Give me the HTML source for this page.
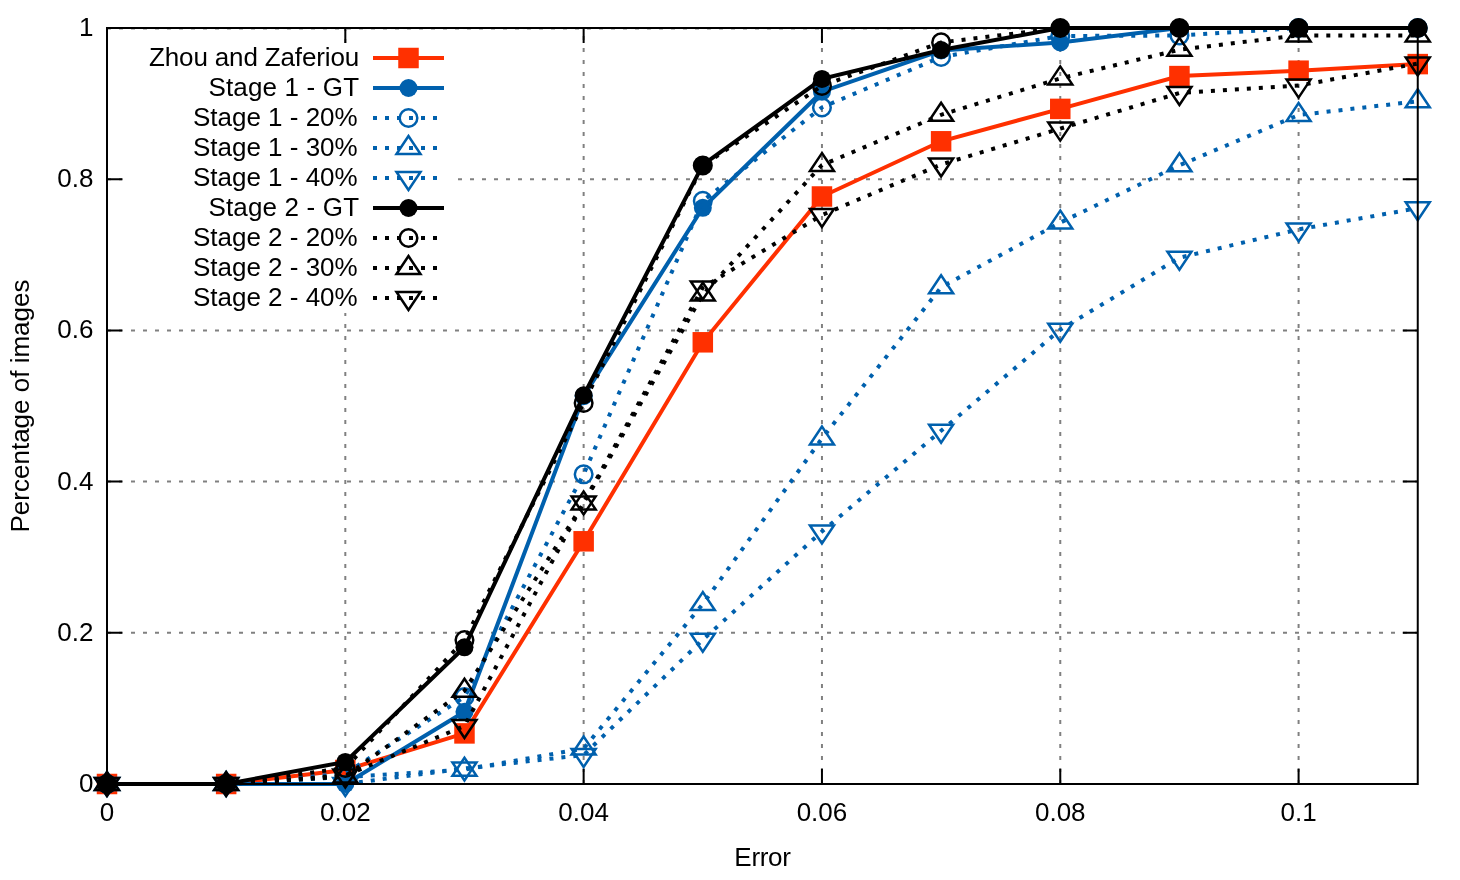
<!DOCTYPE html>
<html>
<head>
<meta charset="utf-8">
<title>Error vs percentage of images</title>
<style>
html, body { margin: 0; padding: 0; background: #ffffff; }
body { width: 1460px; height: 880px; overflow: hidden; font-family: "Liberation Sans", sans-serif; }
svg { display: block; will-change: transform; }
</style>
</head>
<body>
<svg width="1460" height="880" viewBox="0 0 1460 880">
<rect x="0" y="0" width="1460" height="880" fill="#ffffff"/>
<g stroke="#808080" stroke-width="2" stroke-dasharray="4 8" fill="none">
<path d="M107 632.8H1417.75"/>
<path d="M107 481.6H1417.75"/>
<path d="M107 330.4H1417.75"/>
<path d="M107 179.2H125 M458 179.2H1417.75"/>
<path d="M107 28.6H1417.75"/>
<path d="M345.32 784V313 M345.32 43V28"/>
<path d="M583.64 784V28"/>
<path d="M821.95 784V28"/>
<path d="M1060.27 784V28"/>
<path d="M1298.59 784V28"/>
</g>
<g stroke="#000" stroke-width="2" fill="none">
<path d="M107 784V769 M107 28V43"/>
<path d="M345.32 784V769 M345.32 28V43"/>
<path d="M583.64 784V769 M583.64 28V43"/>
<path d="M821.95 784V769 M821.95 28V43"/>
<path d="M1060.27 784V769 M1060.27 28V43"/>
<path d="M1298.59 784V769 M1298.59 28V43"/>
<path d="M107 784H122 M1417.75 784H1402.75"/>
<path d="M107 632.8H122 M1417.75 632.8H1402.75"/>
<path d="M107 481.6H122 M1417.75 481.6H1402.75"/>
<path d="M107 330.4H122 M1417.75 330.4H1402.75"/>
<path d="M107 179.2H122 M1417.75 179.2H1402.75"/>
<path d="M107 28H122 M1417.75 28H1402.75"/>
</g>
<g>
<path d="M373 58H444" stroke="#ff3000" stroke-width="4" fill="none"/>
<rect x="398.25" y="47.75" width="20.5" height="20.5" fill="#ff3000"/>
<path d="M107 784 L226.16 784 L345.32 770 L464.48 733.4 L583.64 541.3 L702.8 342.3 L821.95 196.5 L941.11 141.3 L1060.27 108.9 L1179.43 76.1 L1298.59 70.7 L1417.75 64.1" stroke="#ff3000" stroke-width="4" fill="none" stroke-linejoin="miter"/>
<rect x="96.75" y="773.75" width="20.5" height="20.5" fill="#ff3000"/>
<rect x="215.91" y="773.75" width="20.5" height="20.5" fill="#ff3000"/>
<rect x="335.07" y="759.75" width="20.5" height="20.5" fill="#ff3000"/>
<rect x="454.23" y="723.15" width="20.5" height="20.5" fill="#ff3000"/>
<rect x="573.39" y="531.05" width="20.5" height="20.5" fill="#ff3000"/>
<rect x="692.55" y="332.05" width="20.5" height="20.5" fill="#ff3000"/>
<rect x="811.7" y="186.25" width="20.5" height="20.5" fill="#ff3000"/>
<rect x="930.86" y="131.05" width="20.5" height="20.5" fill="#ff3000"/>
<rect x="1050.02" y="98.65" width="20.5" height="20.5" fill="#ff3000"/>
<rect x="1169.18" y="65.85" width="20.5" height="20.5" fill="#ff3000"/>
<rect x="1288.34" y="60.45" width="20.5" height="20.5" fill="#ff3000"/>
<rect x="1407.5" y="53.85" width="20.5" height="20.5" fill="#ff3000"/>
</g>
<g>
<path d="M373 88H444" stroke="#0060ad" stroke-width="4" fill="none"/>
<circle cx="408.5" cy="88" r="9" fill="#0060ad"/>
<path d="M107 784 L226.16 784 L345.32 784 L464.48 711.8 L583.64 396.2 L702.8 207.8 L821.95 91.7 L941.11 50.5 L1060.27 42.5 L1179.43 28 L1298.59 28 L1417.75 28" stroke="#0060ad" stroke-width="4" fill="none" stroke-linejoin="miter"/>
<circle cx="107" cy="784" r="9" fill="#0060ad"/>
<circle cx="226.16" cy="784" r="9" fill="#0060ad"/>
<circle cx="345.32" cy="784" r="9" fill="#0060ad"/>
<circle cx="464.48" cy="711.8" r="9" fill="#0060ad"/>
<circle cx="583.64" cy="396.2" r="9" fill="#0060ad"/>
<circle cx="702.8" cy="207.8" r="9" fill="#0060ad"/>
<circle cx="821.95" cy="91.7" r="9" fill="#0060ad"/>
<circle cx="941.11" cy="50.5" r="9" fill="#0060ad"/>
<circle cx="1060.27" cy="42.5" r="9" fill="#0060ad"/>
<circle cx="1179.43" cy="28" r="9" fill="#0060ad"/>
<circle cx="1298.59" cy="28" r="9" fill="#0060ad"/>
<circle cx="1417.75" cy="28" r="9" fill="#0060ad"/>
</g>
<g>
<path d="M373 118H444" stroke="#0060ad" stroke-width="4" fill="none" stroke-dasharray="4 8"/>
<circle cx="408.5" cy="118" r="8.8" fill="none" stroke="#0060ad" stroke-width="2.5"/>
<path d="M107 784 L226.16 784 L345.32 773.5 L464.48 697 L583.64 474.3 L702.8 200.9 L821.95 107.4 L941.11 57 L1060.27 36 L1179.43 35.5 L1298.59 28 L1417.75 28" stroke="#0060ad" stroke-width="4" fill="none" stroke-linejoin="miter" stroke-dasharray="4 8"/>
<circle cx="107" cy="784" r="8.8" fill="none" stroke="#0060ad" stroke-width="2.5"/>
<circle cx="226.16" cy="784" r="8.8" fill="none" stroke="#0060ad" stroke-width="2.5"/>
<circle cx="345.32" cy="773.5" r="8.8" fill="none" stroke="#0060ad" stroke-width="2.5"/>
<circle cx="464.48" cy="697" r="8.8" fill="none" stroke="#0060ad" stroke-width="2.5"/>
<circle cx="583.64" cy="474.3" r="8.8" fill="none" stroke="#0060ad" stroke-width="2.5"/>
<circle cx="702.8" cy="200.9" r="8.8" fill="none" stroke="#0060ad" stroke-width="2.5"/>
<circle cx="821.95" cy="107.4" r="8.8" fill="none" stroke="#0060ad" stroke-width="2.5"/>
<circle cx="941.11" cy="57" r="8.8" fill="none" stroke="#0060ad" stroke-width="2.5"/>
<circle cx="1060.27" cy="36" r="8.8" fill="none" stroke="#0060ad" stroke-width="2.5"/>
<circle cx="1179.43" cy="35.5" r="8.8" fill="none" stroke="#0060ad" stroke-width="2.5"/>
<circle cx="1298.59" cy="28" r="8.8" fill="none" stroke="#0060ad" stroke-width="2.5"/>
<circle cx="1417.75" cy="28" r="8.8" fill="none" stroke="#0060ad" stroke-width="2.5"/>
</g>
<g>
<path d="M373 148H444" stroke="#0060ad" stroke-width="4" fill="none" stroke-dasharray="4 8"/>
<polygon points="408.5,136 396.5,154 420.5,154" fill="none" stroke="#0060ad" stroke-width="2.5" stroke-linejoin="miter"/>
<path d="M107 784 L226.16 784 L345.32 777 L464.48 769.7 L583.64 748.5 L702.8 604.1 L821.95 438.5 L941.11 287.3 L1060.27 222.6 L1179.43 165.3 L1298.59 115 L1417.75 101.3" stroke="#0060ad" stroke-width="4" fill="none" stroke-linejoin="miter" stroke-dasharray="4 8"/>
<polygon points="107,772 95,790 119,790" fill="none" stroke="#0060ad" stroke-width="2.5" stroke-linejoin="miter"/>
<polygon points="226.16,772 214.16,790 238.16,790" fill="none" stroke="#0060ad" stroke-width="2.5" stroke-linejoin="miter"/>
<polygon points="345.32,765 333.32,783 357.32,783" fill="none" stroke="#0060ad" stroke-width="2.5" stroke-linejoin="miter"/>
<polygon points="464.48,757.7 452.48,775.7 476.48,775.7" fill="none" stroke="#0060ad" stroke-width="2.5" stroke-linejoin="miter"/>
<polygon points="583.64,736.5 571.64,754.5 595.64,754.5" fill="none" stroke="#0060ad" stroke-width="2.5" stroke-linejoin="miter"/>
<polygon points="702.8,592.1 690.8,610.1 714.8,610.1" fill="none" stroke="#0060ad" stroke-width="2.5" stroke-linejoin="miter"/>
<polygon points="821.95,426.5 809.95,444.5 833.95,444.5" fill="none" stroke="#0060ad" stroke-width="2.5" stroke-linejoin="miter"/>
<polygon points="941.11,275.3 929.11,293.3 953.11,293.3" fill="none" stroke="#0060ad" stroke-width="2.5" stroke-linejoin="miter"/>
<polygon points="1060.27,210.6 1048.27,228.6 1072.27,228.6" fill="none" stroke="#0060ad" stroke-width="2.5" stroke-linejoin="miter"/>
<polygon points="1179.43,153.3 1167.43,171.3 1191.43,171.3" fill="none" stroke="#0060ad" stroke-width="2.5" stroke-linejoin="miter"/>
<polygon points="1298.59,103 1286.59,121 1310.59,121" fill="none" stroke="#0060ad" stroke-width="2.5" stroke-linejoin="miter"/>
<polygon points="1417.75,89.3 1405.75,107.3 1429.75,107.3" fill="none" stroke="#0060ad" stroke-width="2.5" stroke-linejoin="miter"/>
</g>
<g>
<path d="M373 178H444" stroke="#0060ad" stroke-width="4" fill="none" stroke-dasharray="4 8"/>
<polygon points="408.5,190 396.5,172 420.5,172" fill="none" stroke="#0060ad" stroke-width="2.5" stroke-linejoin="miter"/>
<path d="M107 784 L226.16 784 L345.32 784 L464.48 768.5 L583.64 755 L702.8 639.8 L821.95 531.5 L941.11 430.8 L1060.27 329.7 L1179.43 257.7 L1298.59 229.4 L1417.75 208.2" stroke="#0060ad" stroke-width="4" fill="none" stroke-linejoin="miter" stroke-dasharray="4 8"/>
<polygon points="107,796 95,778 119,778" fill="none" stroke="#0060ad" stroke-width="2.5" stroke-linejoin="miter"/>
<polygon points="226.16,796 214.16,778 238.16,778" fill="none" stroke="#0060ad" stroke-width="2.5" stroke-linejoin="miter"/>
<polygon points="345.32,796 333.32,778 357.32,778" fill="none" stroke="#0060ad" stroke-width="2.5" stroke-linejoin="miter"/>
<polygon points="464.48,780.5 452.48,762.5 476.48,762.5" fill="none" stroke="#0060ad" stroke-width="2.5" stroke-linejoin="miter"/>
<polygon points="583.64,767 571.64,749 595.64,749" fill="none" stroke="#0060ad" stroke-width="2.5" stroke-linejoin="miter"/>
<polygon points="702.8,651.8 690.8,633.8 714.8,633.8" fill="none" stroke="#0060ad" stroke-width="2.5" stroke-linejoin="miter"/>
<polygon points="821.95,543.5 809.95,525.5 833.95,525.5" fill="none" stroke="#0060ad" stroke-width="2.5" stroke-linejoin="miter"/>
<polygon points="941.11,442.8 929.11,424.8 953.11,424.8" fill="none" stroke="#0060ad" stroke-width="2.5" stroke-linejoin="miter"/>
<polygon points="1060.27,341.7 1048.27,323.7 1072.27,323.7" fill="none" stroke="#0060ad" stroke-width="2.5" stroke-linejoin="miter"/>
<polygon points="1179.43,269.7 1167.43,251.7 1191.43,251.7" fill="none" stroke="#0060ad" stroke-width="2.5" stroke-linejoin="miter"/>
<polygon points="1298.59,241.4 1286.59,223.4 1310.59,223.4" fill="none" stroke="#0060ad" stroke-width="2.5" stroke-linejoin="miter"/>
<polygon points="1417.75,220.2 1405.75,202.2 1429.75,202.2" fill="none" stroke="#0060ad" stroke-width="2.5" stroke-linejoin="miter"/>
</g>
<g>
<path d="M373 208H444" stroke="#000000" stroke-width="4" fill="none"/>
<circle cx="408.5" cy="208" r="9" fill="#000000"/>
<path d="M107 784 L226.16 784 L345.32 761.9 L464.48 647.3 L583.64 395.3 L702.8 164.9 L821.95 78.9 L941.11 50 L1060.27 28 L1179.43 28 L1298.59 28 L1417.75 28" stroke="#000000" stroke-width="4" fill="none" stroke-linejoin="miter"/>
<circle cx="107" cy="784" r="9" fill="#000000"/>
<circle cx="226.16" cy="784" r="9" fill="#000000"/>
<circle cx="345.32" cy="761.9" r="9" fill="#000000"/>
<circle cx="464.48" cy="647.3" r="9" fill="#000000"/>
<circle cx="583.64" cy="395.3" r="9" fill="#000000"/>
<circle cx="702.8" cy="164.9" r="9" fill="#000000"/>
<circle cx="821.95" cy="78.9" r="9" fill="#000000"/>
<circle cx="941.11" cy="50" r="9" fill="#000000"/>
<circle cx="1060.27" cy="28" r="9" fill="#000000"/>
<circle cx="1179.43" cy="28" r="9" fill="#000000"/>
<circle cx="1298.59" cy="28" r="9" fill="#000000"/>
<circle cx="1417.75" cy="28" r="9" fill="#000000"/>
</g>
<g>
<path d="M373 238H444" stroke="#000000" stroke-width="4" fill="none" stroke-dasharray="4 8"/>
<circle cx="408.5" cy="238" r="8.8" fill="none" stroke="#000000" stroke-width="2.5"/>
<path d="M107 784 L226.16 784 L345.32 768 L464.48 640 L583.64 403 L702.8 165.5 L821.95 85.9 L941.11 42.4 L1060.27 28 L1179.43 28 L1298.59 28 L1417.75 28" stroke="#000000" stroke-width="4" fill="none" stroke-linejoin="miter" stroke-dasharray="4 8"/>
<circle cx="107" cy="784" r="8.8" fill="none" stroke="#000000" stroke-width="2.5"/>
<circle cx="226.16" cy="784" r="8.8" fill="none" stroke="#000000" stroke-width="2.5"/>
<circle cx="345.32" cy="768" r="8.8" fill="none" stroke="#000000" stroke-width="2.5"/>
<circle cx="464.48" cy="640" r="8.8" fill="none" stroke="#000000" stroke-width="2.5"/>
<circle cx="583.64" cy="403" r="8.8" fill="none" stroke="#000000" stroke-width="2.5"/>
<circle cx="702.8" cy="165.5" r="8.8" fill="none" stroke="#000000" stroke-width="2.5"/>
<circle cx="821.95" cy="85.9" r="8.8" fill="none" stroke="#000000" stroke-width="2.5"/>
<circle cx="941.11" cy="42.4" r="8.8" fill="none" stroke="#000000" stroke-width="2.5"/>
<circle cx="1060.27" cy="28" r="8.8" fill="none" stroke="#000000" stroke-width="2.5"/>
<circle cx="1179.43" cy="28" r="8.8" fill="none" stroke="#000000" stroke-width="2.5"/>
<circle cx="1298.59" cy="28" r="8.8" fill="none" stroke="#000000" stroke-width="2.5"/>
<circle cx="1417.75" cy="28" r="8.8" fill="none" stroke="#000000" stroke-width="2.5"/>
</g>
<g>
<path d="M373 268H444" stroke="#000000" stroke-width="4" fill="none" stroke-dasharray="4 8"/>
<polygon points="408.5,256 396.5,274 420.5,274" fill="none" stroke="#000000" stroke-width="2.5" stroke-linejoin="miter"/>
<path d="M107 784 L226.16 784 L345.32 776.5 L464.48 690.7 L583.64 503.4 L702.8 294.6 L821.95 165.1 L941.11 114.8 L1060.27 78.4 L1179.43 49.7 L1298.59 35.4 L1417.75 35.4" stroke="#000000" stroke-width="4" fill="none" stroke-linejoin="miter" stroke-dasharray="4 8"/>
<polygon points="107,772 95,790 119,790" fill="none" stroke="#000000" stroke-width="2.5" stroke-linejoin="miter"/>
<polygon points="226.16,772 214.16,790 238.16,790" fill="none" stroke="#000000" stroke-width="2.5" stroke-linejoin="miter"/>
<polygon points="345.32,764.5 333.32,782.5 357.32,782.5" fill="none" stroke="#000000" stroke-width="2.5" stroke-linejoin="miter"/>
<polygon points="464.48,678.7 452.48,696.7 476.48,696.7" fill="none" stroke="#000000" stroke-width="2.5" stroke-linejoin="miter"/>
<polygon points="583.64,491.4 571.64,509.4 595.64,509.4" fill="none" stroke="#000000" stroke-width="2.5" stroke-linejoin="miter"/>
<polygon points="702.8,282.6 690.8,300.6 714.8,300.6" fill="none" stroke="#000000" stroke-width="2.5" stroke-linejoin="miter"/>
<polygon points="821.95,153.1 809.95,171.1 833.95,171.1" fill="none" stroke="#000000" stroke-width="2.5" stroke-linejoin="miter"/>
<polygon points="941.11,102.8 929.11,120.8 953.11,120.8" fill="none" stroke="#000000" stroke-width="2.5" stroke-linejoin="miter"/>
<polygon points="1060.27,66.4 1048.27,84.4 1072.27,84.4" fill="none" stroke="#000000" stroke-width="2.5" stroke-linejoin="miter"/>
<polygon points="1179.43,37.7 1167.43,55.7 1191.43,55.7" fill="none" stroke="#000000" stroke-width="2.5" stroke-linejoin="miter"/>
<polygon points="1298.59,23.4 1286.59,41.4 1310.59,41.4" fill="none" stroke="#000000" stroke-width="2.5" stroke-linejoin="miter"/>
<polygon points="1417.75,23.4 1405.75,41.4 1429.75,41.4" fill="none" stroke="#000000" stroke-width="2.5" stroke-linejoin="miter"/>
</g>
<g>
<path d="M373 298H444" stroke="#000000" stroke-width="4" fill="none" stroke-dasharray="4 8"/>
<polygon points="408.5,310 396.5,292 420.5,292" fill="none" stroke="#000000" stroke-width="2.5" stroke-linejoin="miter"/>
<path d="M107 784 L226.16 784 L345.32 775.5 L464.48 726 L583.64 502.5 L702.8 287.5 L821.95 215 L941.11 164.5 L1060.27 128.6 L1179.43 93 L1298.59 85.6 L1417.75 63.5" stroke="#000000" stroke-width="4" fill="none" stroke-linejoin="miter" stroke-dasharray="4 8"/>
<polygon points="107,796 95,778 119,778" fill="none" stroke="#000000" stroke-width="2.5" stroke-linejoin="miter"/>
<polygon points="226.16,796 214.16,778 238.16,778" fill="none" stroke="#000000" stroke-width="2.5" stroke-linejoin="miter"/>
<polygon points="345.32,787.5 333.32,769.5 357.32,769.5" fill="none" stroke="#000000" stroke-width="2.5" stroke-linejoin="miter"/>
<polygon points="464.48,738 452.48,720 476.48,720" fill="none" stroke="#000000" stroke-width="2.5" stroke-linejoin="miter"/>
<polygon points="583.64,514.5 571.64,496.5 595.64,496.5" fill="none" stroke="#000000" stroke-width="2.5" stroke-linejoin="miter"/>
<polygon points="702.8,299.5 690.8,281.5 714.8,281.5" fill="none" stroke="#000000" stroke-width="2.5" stroke-linejoin="miter"/>
<polygon points="821.95,227 809.95,209 833.95,209" fill="none" stroke="#000000" stroke-width="2.5" stroke-linejoin="miter"/>
<polygon points="941.11,176.5 929.11,158.5 953.11,158.5" fill="none" stroke="#000000" stroke-width="2.5" stroke-linejoin="miter"/>
<polygon points="1060.27,140.6 1048.27,122.6 1072.27,122.6" fill="none" stroke="#000000" stroke-width="2.5" stroke-linejoin="miter"/>
<polygon points="1179.43,105 1167.43,87 1191.43,87" fill="none" stroke="#000000" stroke-width="2.5" stroke-linejoin="miter"/>
<polygon points="1298.59,97.6 1286.59,79.6 1310.59,79.6" fill="none" stroke="#000000" stroke-width="2.5" stroke-linejoin="miter"/>
<polygon points="1417.75,75.5 1405.75,57.5 1429.75,57.5" fill="none" stroke="#000000" stroke-width="2.5" stroke-linejoin="miter"/>
</g>
<path d="M107 28H1417.75V784H107Z" stroke="#000" stroke-width="2" fill="none"/>
<g font-family="'Liberation Sans', sans-serif" font-size="26" fill="#000">
<text x="359" y="65.9" text-anchor="end" letter-spacing="-0.15">Zhou and Zaferiou</text>
<text x="359.2" y="95.9" text-anchor="end" letter-spacing="0.16">Stage 1 - GT</text>
<text x="357.7" y="125.9" text-anchor="end" letter-spacing="0.0">Stage 1 - 20%</text>
<text x="357.7" y="155.9" text-anchor="end" letter-spacing="0.0">Stage 1 - 30%</text>
<text x="357.7" y="185.9" text-anchor="end" letter-spacing="0.0">Stage 1 - 40%</text>
<text x="359.2" y="215.9" text-anchor="end" letter-spacing="0.16">Stage 2 - GT</text>
<text x="357.7" y="245.9" text-anchor="end" letter-spacing="0.0">Stage 2 - 20%</text>
<text x="357.7" y="275.9" text-anchor="end" letter-spacing="0.0">Stage 2 - 30%</text>
<text x="357.7" y="305.9" text-anchor="end" letter-spacing="0.0">Stage 2 - 40%</text>
<text x="93.5" y="791.9" text-anchor="end">0</text>
<text x="93.5" y="640.7" text-anchor="end">0.2</text>
<text x="93.5" y="489.5" text-anchor="end">0.4</text>
<text x="93.5" y="338.3" text-anchor="end">0.6</text>
<text x="93.5" y="187.1" text-anchor="end">0.8</text>
<text x="93.5" y="35.9" text-anchor="end">1</text>
<text x="107" y="820.6" text-anchor="middle">0</text>
<text x="345.32" y="820.6" text-anchor="middle">0.02</text>
<text x="583.64" y="820.6" text-anchor="middle">0.04</text>
<text x="821.95" y="820.6" text-anchor="middle">0.06</text>
<text x="1060.27" y="820.6" text-anchor="middle">0.08</text>
<text x="1298.59" y="820.6" text-anchor="middle">0.1</text>
<text x="762.5" y="865.9" text-anchor="middle" letter-spacing="-0.3">Error</text>
<text transform="translate(28.8 406) rotate(-90)" text-anchor="middle">Percentage of images</text>
</g>
</svg>
</body>
</html>
